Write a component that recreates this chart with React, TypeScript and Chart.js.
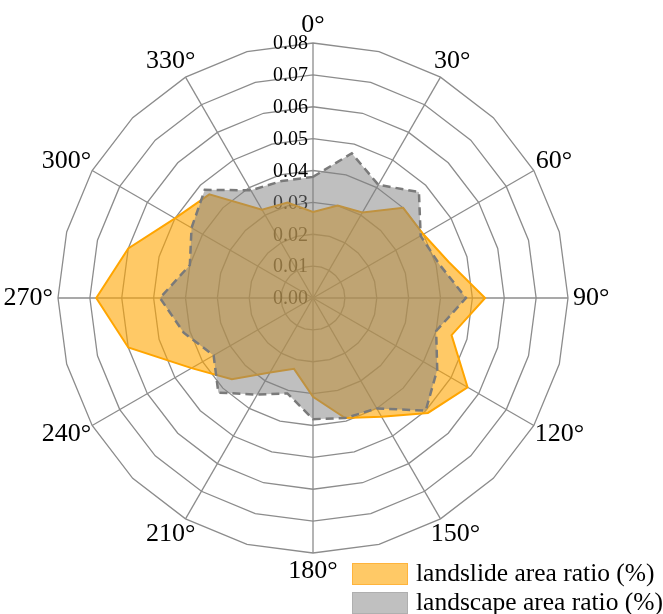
import React, { useEffect, useRef } from 'react';
import { Chart, registerables } from 'chart.js';

Chart.register(...registerables);

const directionLabels = [
  '0°', '', '30°', '', '60°', '', '90°', '', '120°', '', '150°', '',
  '180°', '', '210°', '', '240°', '', '270°', '', '300°', '', '330°', '',
];

const landslideRatio = [
  0.027, 0.030, 0.031, 0.040, 0.040, 0.044, 0.054, 0.045, 0.056, 0.051, 0.043, 0.039,
  0.031, 0.023, 0.027, 0.036, 0.044, 0.060, 0.068, 0.060, 0.050, 0.046, 0.032, 0.031,
];

const landscapeRatio = [
  0.038, 0.047, 0.041, 0.047, 0.039, 0.041, 0.048, 0.040, 0.045, 0.050, 0.040, 0.039,
  0.038, 0.031, 0.035, 0.042, 0.036, 0.042, 0.048, 0.040, 0.044, 0.048, 0.039, 0.038,
];

const seriesNames = ['landslide area ratio (%)', 'landscape area ratio (%)'];

const tickMin = 0;
const tickMax = 0.08;
const tickStep = 0.01;

const SERIF = '"Liberation Serif", "Times New Roman", serif';
const GRID = '#8c8c8c';
const ORANGE_FILL = 'rgba(255,165,0,0.6)';
const ORANGE_LINE = '#FFA500';
const GRAY_FILL = 'rgba(128,128,128,0.5)';
const GRAY_LINE = '#7a7a7a';

const labelPlugin = {
  id: 'radarLabels',
  beforeDatasetsDraw(chart: any) {
    const scale = chart.scales.r;
    const ctx = chart.ctx;
    ctx.save();
    ctx.fillStyle = '#000';
    ctx.font = `20px ${SERIF}`;
    ctx.textAlign = 'right';
    ctx.textBaseline = 'middle';
    scale.ticks.forEach((t: any) => {
      const d = scale.getDistanceFromCenterForValue(t.value);
      ctx.fillText(Number(t.value).toFixed(2), scale.xCenter - 5, scale.yCenter - d + 1);
    });
    ctx.font = `26px ${SERIF}`;
    ctx.textAlign = 'center';
    directionLabels.forEach((lab, i) => {
      if (!lab) return;
      const p = scale.getPointPosition(i, scale.drawingArea);
      const s = (p.x - scale.xCenter) / scale.drawingArea;
      const c = -(p.y - scale.yCenter) / scale.drawingArea;
      const w = ctx.measureText(lab).width;
      ctx.fillText(lab, p.x + s * (w / 2 + 5), p.y - c * (9 + 9));
    });
    ctx.restore();
  },
};

export default function App() {
  const ref = useRef<HTMLCanvasElement | null>(null);

  useEffect(() => {
    if (!ref.current) return;
    const chart = new Chart(ref.current, {
      type: 'radar',
      data: {
        labels: directionLabels,
        datasets: [
          {
            label: seriesNames[0],
            data: landslideRatio,
            backgroundColor: ORANGE_FILL,
            borderColor: ORANGE_LINE,
            borderWidth: 2,
            pointRadius: 0,
            fill: true,
            order: 1,
          },
          {
            label: seriesNames[1],
            data: landscapeRatio,
            backgroundColor: GRAY_FILL,
            borderColor: GRAY_LINE,
            borderWidth: 2.5,
            borderDash: [8, 5],
            pointRadius: 0,
            fill: true,
            order: 0,
          },
        ],
      },
      options: {
        responsive: false,
        animation: false,
        devicePixelRatio: 1,
        layout: { padding: { left: 58, right: 95, top: 43, bottom: 61 } },
        plugins: {
          legend: { display: false },
          tooltip: { enabled: false },
        },
        elements: { line: { tension: 0 } },
        scales: {
          r: {
            min: tickMin,
            max: tickMax,
            ticks: { stepSize: tickStep, display: false },
            pointLabels: { display: false },
            grid: { circular: false, color: GRID, lineWidth: 1.3 },
            angleLines: {
              display: true,
              color: GRID,
              lineWidth: (ctx: any) => (directionLabels[ctx.index] ? 1.3 : 0),
            },
          },
        },
      },
      plugins: [labelPlugin],
    });
    return () => chart.destroy();
  }, []);

  const legendText: React.CSSProperties = {
    position: 'absolute',
    left: 416,
    fontFamily: SERIF,
    fontSize: 25.5,
    lineHeight: '26px',
    color: '#000',
    whiteSpace: 'nowrap',
  };
  const swatch: React.CSSProperties = {
    position: 'absolute',
    left: 352,
    width: 54,
    height: 20,
  };

  return (
    <div style={{ position: 'fixed', left: 0, top: 0, width: 663, height: 614, overflow: 'hidden', background: '#fff' }}>
      <canvas ref={ref} width={663} height={614} style={{ display: 'block', width: 663, height: 614 }} />
      <div style={{ ...swatch, top: 563, background: 'rgb(255,201,102)', border: '1px solid rgb(255,180,60)' }} />
      <div style={{ ...legendText, top: 560 }}>{seriesNames[0]}</div>
      <div style={{ ...swatch, top: 592, background: 'rgb(192,192,192)', border: '1px solid rgb(175,175,175)' }} />
      <div style={{ ...legendText, top: 589 }}>{seriesNames[1]}</div>
    </div>
  );
}
